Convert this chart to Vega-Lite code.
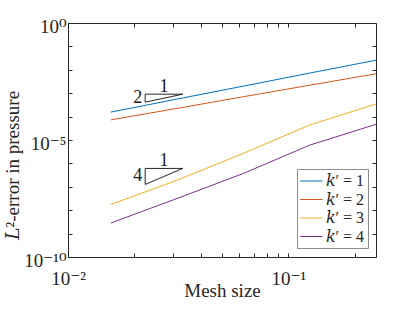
{
  "$schema": "https://vega.github.io/schema/vega-lite/v6.json",
  "width": 308,
  "height": 234,
  "autosize": {"type": "none"},
  "padding": {"left": 68, "top": 23, "right": 39, "bottom": 55},
  "background": "white",
  "config": {
    "font": "Liberation Serif, DejaVu Serif, serif",
    "view": {"stroke": null},
    "axis": {
      "domainColor": "#262626",
      "tickColor": "#262626",
      "labelColor": "#262626",
      "titleColor": "#262626",
      "labelFont": "Liberation Serif, DejaVu Serif, serif",
      "titleFont": "Liberation Serif, DejaVu Serif, serif",
      "labelFontSize": 19,
      "titleFontSize": 19,
      "titleFontWeight": "normal",
      "grid": false,
      "tickSize": -4,
      "domainWidth": 1,
      "tickWidth": 1,
      "labelOverlap": false,
      "labelFlush": false
    }
  },
  "datasets": {
    "lines": [
      {"h": 0.015625, "err": 1.549e-4, "series": "𝑘′ = 1"},
      {"h": 0.03125, "err": 5.62e-4, "series": "𝑘′ = 1"},
      {"h": 0.0625, "err": 2.0e-3, "series": "𝑘′ = 1"},
      {"h": 0.125, "err": 7.24e-3, "series": "𝑘′ = 1"},
      {"h": 0.25, "err": 2.57e-2, "series": "𝑘′ = 1"},
      {"h": 0.015625, "err": 7.24e-5, "series": "𝑘′ = 2"},
      {"h": 0.03125, "err": 2.24e-4, "series": "𝑘′ = 2"},
      {"h": 0.0625, "err": 7.08e-4, "series": "𝑘′ = 2"},
      {"h": 0.125, "err": 2.19e-3, "series": "𝑘′ = 2"},
      {"h": 0.25, "err": 6.76e-3, "series": "𝑘′ = 2"},
      {"h": 0.015625, "err": 1.74e-8, "series": "𝑘′ = 3"},
      {"h": 0.03125, "err": 1.91e-7, "series": "𝑘′ = 3"},
      {"h": 0.0625, "err": 2.69e-6, "series": "𝑘′ = 3"},
      {"h": 0.125, "err": 4.37e-5, "series": "𝑘′ = 3"},
      {"h": 0.25, "err": 3.47e-4, "series": "𝑘′ = 3"},
      {"h": 0.015625, "err": 2.82e-9, "series": "𝑘′ = 4"},
      {"h": 0.03125, "err": 3.16e-8, "series": "𝑘′ = 4"},
      {"h": 0.0625, "err": 3.72e-7, "series": "𝑘′ = 4"},
      {"h": 0.125, "err": 6.03e-6, "series": "𝑘′ = 4"},
      {"h": 0.25, "err": 4.68e-5, "series": "𝑘′ = 4"}
    ],
    "tri": [
      {"id": "A", "o": 1, "x": 0.0224, "y": 9.1e-4},
      {"id": "A", "o": 2, "x": 0.0332, "y": 9.1e-4},
      {"id": "A", "o": 3, "x": 0.0224, "y": 4.14e-4},
      {"id": "A", "o": 4, "x": 0.0224, "y": 9.1e-4},
      {"id": "B", "o": 1, "x": 0.0224, "y": 6.1e-7},
      {"id": "B", "o": 2, "x": 0.0332, "y": 6.1e-7},
      {"id": "B", "o": 3, "x": 0.0224, "y": 1.263e-7},
      {"id": "B", "o": 4, "x": 0.0224, "y": 6.1e-7}
    ],
    "topLabels": [
      {"x": 0.0273, "y": 9.1e-4, "t": "1"},
      {"x": 0.0273, "y": 6.1e-7, "t": "1"}
    ],
    "sideLabels": [
      {"x": 0.0224, "y": 6.1e-4, "t": "2"},
      {"x": 0.0224, "y": 2.78e-7, "t": "4"}
    ]
  },
  "layer": [
    {
      "data": {"name": "lines"},
      "mark": {"type": "line", "strokeWidth": 1, "clip": true},
      "encoding": {
        "x": {
          "field": "h", "type": "quantitative",
          "scale": {"type": "log", "domain": [0.01, 0.25], "nice": false},
          "axis": {
            "orient": "bottom",
            "title": "Mesh size",
            "titleX": 154, "titleY": 39, "titleBaseline": "alphabetic",
            "values": [0.01, 0.02, 0.03, 0.04, 0.05, 0.06, 0.07, 0.08, 0.09, 0.1, 0.2],
            "labelExpr": "datum.value == 0.01 ? '10⁻²' : (datum.value == 0.1 ? '10⁻¹' : '')",
            "labelBaseline": "alphabetic",
            "labelPadding": 31
          }
        },
        "y": {
          "field": "err", "type": "quantitative",
          "scale": {"type": "log", "domain": [1e-10, 1], "nice": false},
          "axis": {
            "orient": "left",
            "title": "𝐿²-error in pressure",
            "titleFontSize": 19,
            "titleX": -56, "titleY": 142, "titleAngle": -90, "titleAlign": "center", "titleBaseline": "middle",
            "values": [1e-10, 1e-9, 1e-8, 1e-7, 1e-6, 1e-5, 1e-4, 1e-3, 1e-2, 1e-1, 1],
            "labelExpr": "datum.value == 1 ? '10⁰' : (datum.value == 0.00001 ? '10⁻⁵' : (datum.value == 1e-10 ? '10⁻¹⁰' : ''))",
            "labelPadding": 6,
            "labelBaseline": "alphabetic",
            "labelOffset": 9
          }
        },
        "color": {
          "field": "series", "type": "nominal",
          "scale": {
            "domain": ["𝑘′ = 1", "𝑘′ = 2", "𝑘′ = 3", "𝑘′ = 4"],
            "range": ["#0072BD", "#D95319", "#EDB120", "#7E2F8E"]
          },
          "legend": {
            "title": null,
            "orient": "none",
            "legendX": 229,
            "legendY": 146,
            "strokeColor": "#8c8c8c",
            "fillColor": "white",
            "padding": 3.5,
            "symbolType": "M-1.39,0H1.39",
            "symbolSize": 256,
            "symbolOffset": 2.4,
            "symbolStrokeWidth": 1,
            "labelFont": "Liberation Serif, DejaVu Serif, serif",
            "labelFontSize": 16,
            "labelColor": "#262626",
            "labelOffset": 6,
            "rowPadding": 1.5
          }
        }
      }
    },
    {
      "data": {"name": "tri"},
      "mark": {"type": "line", "color": "#262626", "strokeWidth": 1},
      "encoding": {
        "x": {
          "field": "x", "type": "quantitative",
          "scale": {"type": "log", "domain": [0.01, 0.25], "nice": false},
          "axis": {
            "orient": "top", "title": null, "labels": false,
            "values": [0.01, 0.02, 0.03, 0.04, 0.05, 0.06, 0.07, 0.08, 0.09, 0.1, 0.2]
          }
        },
        "y": {
          "field": "y", "type": "quantitative",
          "scale": {"type": "log", "domain": [1e-10, 1], "nice": false},
          "axis": {
            "orient": "right", "title": null, "labels": false,
            "values": [1e-10, 1e-9, 1e-8, 1e-7, 1e-6, 1e-5, 1e-4, 1e-3, 1e-2, 1e-1, 1]
          }
        },
        "order": {"field": "o", "type": "quantitative"},
        "detail": {"field": "id", "type": "nominal"}
      }
    },
    {
      "data": {"name": "topLabels"},
      "mark": {"type": "text", "font": "Liberation Serif, DejaVu Serif, serif", "fontSize": 18, "color": "#1a1a1a", "align": "center", "baseline": "alphabetic", "dy": -2},
      "encoding": {
        "x": {"field": "x", "type": "quantitative", "scale": {"type": "log", "domain": [0.01, 0.25], "nice": false}, "axis": null},
        "y": {"field": "y", "type": "quantitative", "scale": {"type": "log", "domain": [1e-10, 1], "nice": false}, "axis": null},
        "text": {"field": "t"}
      }
    },
    {
      "data": {"name": "sideLabels"},
      "mark": {"type": "text", "font": "Liberation Serif, DejaVu Serif, serif", "fontSize": 18, "color": "#1a1a1a", "align": "right", "baseline": "middle", "dx": -3},
      "encoding": {
        "x": {"field": "x", "type": "quantitative", "scale": {"type": "log", "domain": [0.01, 0.25], "nice": false}, "axis": null},
        "y": {"field": "y", "type": "quantitative", "scale": {"type": "log", "domain": [1e-10, 1], "nice": false}, "axis": null},
        "text": {"field": "t"}
      }
    }
  ],
  "resolve": {"axis": {"x": "independent", "y": "independent"}}
}
